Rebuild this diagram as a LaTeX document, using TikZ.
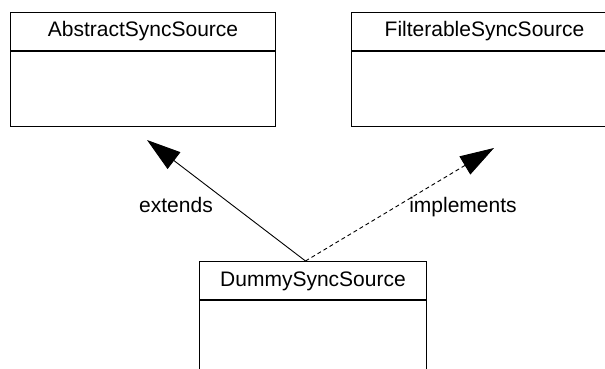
\documentclass[tikz,border=0pt]{standalone}
\usepackage{fontspec}
\setmainfont{Liberation Sans}
\usetikzlibrary{arrows.meta}
\tikzset{
  hdr/.style={draw=black, line width=1pt, anchor=north west, minimum height=38pt, inner sep=0pt, text height=15pt, text depth=4pt, font=\fontsize{21}{25}\selectfont},
  bodybox/.style={draw=black, line width=1pt, anchor=north west, inner sep=0pt},
  lbl/.style={anchor=base, inner sep=0pt, font=\fontsize{21}{25}\selectfont},
  extarrow/.style={line width=0.9pt, -{Triangle[length=34pt,width=21pt]}},
  implarrow/.style={line width=0.9pt, dash pattern=on 4pt off 3pt, -{Triangle[length=34pt,width=21pt]}}
}
\begin{document}
\begin{tikzpicture}[x=1pt,y=-1pt]
\useasboundingbox (0,0) rectangle (605,369);
\clip (0,0) rectangle (605,369);
\fill[white] (0,0) rectangle (605,369);
% AbstractSyncSource
\node[hdr, minimum width=265pt] (absH) at (10,12) {AbstractSyncSource};
\node[bodybox, minimum width=265pt, minimum height=75pt] (absB) at (absH.south west) {};
% FilterableSyncSource
\node[hdr, minimum width=266pt] (filH) at (351,12) {FilterableSyncSource};
\node[bodybox, minimum width=266pt, minimum height=75pt] (filB) at (filH.south west) {};
% DummySyncSource
\node[hdr, minimum width=227pt] (dmyH) at (199,261) {DummySyncSource};
\node[bodybox, minimum width=227pt, minimum height=90pt] (dmyB) at (dmyH.south west) {};
% connectors
\coordinate (src) at ([xshift=-7.5pt]dmyH.north);
\coordinate (absTip) at (147,140);
\coordinate (filTip) at (494,148);
\draw[extarrow] (src) -- (absTip);
\draw[implarrow] (src) -- (filTip);
\node[lbl] (extL) at (176,212) {extends};
\node[lbl] (impL) at (463,212) {implements};
\end{tikzpicture}
\end{document}
